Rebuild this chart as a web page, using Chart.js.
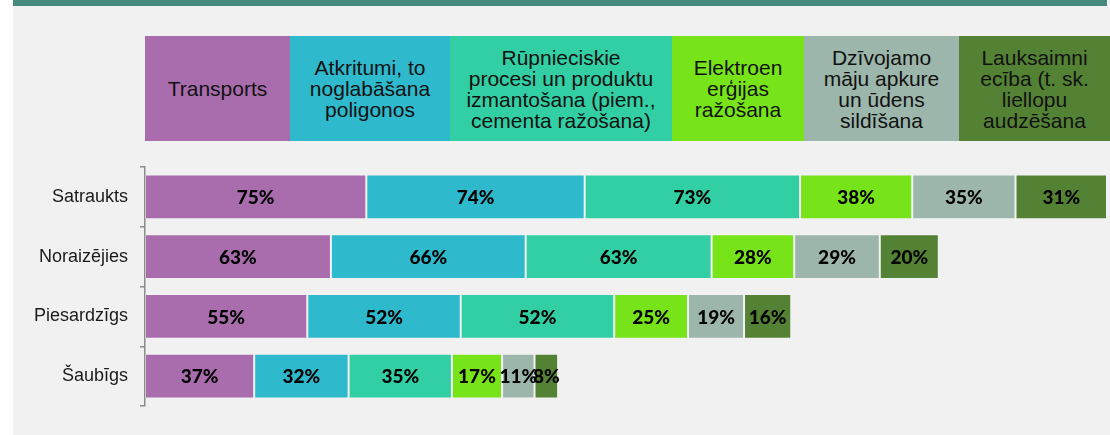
<!DOCTYPE html>
<html>
<head>
<meta charset="utf-8">
<script src="https://cdn.jsdelivr.net/npm/chart.js@4"></script>
<style>
  body { margin: 0; background: #fff; }
  #wrap { position: relative; width: 1110px; height: 435px; overflow: hidden; }
  #bg { position: absolute; left: 13px; top: 0; width: 1097px; height: 435px; background: #f1f1f1; }
  #band { position: absolute; left: 13px; top: 0; width: 1094px; height: 6px; background: #458a7c; }
  #chart { position: absolute; left: 0; top: 0; }
  .hbox { position: absolute; top: 36px; height: 105px; display: flex; align-items: center; justify-content: center;
          text-align: center; font-family: "Liberation Sans", Arial, sans-serif; font-size: 21px; line-height: 21px; color: #111; }
</style>
</head>
<body>
<div id="wrap">
  <div id="bg"></div>
  <div id="band"></div>
  <canvas id="chart" width="1110" height="435"></canvas>
  <div id="header"></div>
</div>
<script>
// categories (rows)
const categories = ['Satraukts', 'Noraizējies', 'Piesardzīgs', 'Šaubīgs'];

// series, header text split as in the picture
const seriesLines = [
  ['Transports'],
  ['Atkritumi, to', 'noglabāšana', 'poligonos'],
  ['Rūpnieciskie', 'procesi un produktu', 'izmantošana (piem.,', 'cementa ražošana)'],
  ['Elektroen', 'erģijas', 'ražošana'],
  ['Dzīvojamo', 'māju apkure', 'un ūdens', 'sildīšana'],
  ['Lauksaimni', 'ecība (t. sk.', 'liellopu', 'audzēšana']
];

// values in %, one array per series, in category order
const transports = [75, 63, 55, 37];
const atkritumi = [74, 66, 52, 32];
const rupnieciskie = [73, 63, 52, 35];
const elektroenergija = [38, 28, 25, 17];
const apkure = [35, 29, 19, 11];
const lauksaimnieciba = [31, 20, 16, 8];

const seriesValues = [transports, atkritumi, rupnieciskie, elektroenergija, apkure, lauksaimnieciba];
const colors = ['#a96dae', '#2eb9cc', '#31cfa3', '#77e41a', '#9cb6ab', '#548235'];

// header boxes edges (px)
const headerEdges = [145, 290, 450, 672, 804, 959, 1110];

const header = document.getElementById('header');
seriesLines.forEach((lines, i) => {
  const d = document.createElement('div');
  d.className = 'hbox';
  d.style.left = headerEdges[i] + 'px';
  d.style.width = (headerEdges[i + 1] - headerEdges[i]) + 'px';
  d.style.background = colors[i];
  d.innerHTML = '<div>' + lines.join('<br>') + '</div>';
  header.appendChild(d);
});

const totals = categories.map((c, j) => seriesValues.reduce((s, arr) => s + arr[j], 0));
const xMax = Math.max(...totals);

// draws the % text in the middle of each segment
const valueLabels = {
  id: 'valueLabels',
  afterDatasetsDraw(chart) {
    const ctx = chart.ctx;
    ctx.save();
    ctx.font = '900 19px Lato, "Open Sans", sans-serif';
    ctx.fillStyle = '#000';
    ctx.textAlign = 'center';
    ctx.textBaseline = 'middle';
    chart.data.datasets.forEach((ds, i) => {
      chart.getDatasetMeta(i).data.forEach((bar, j) => {
        ctx.fillText(ds.data[j] + '%', (bar.x + bar.base) / 2, bar.y + 1);
      });
    });
    ctx.restore();
  }
};

new Chart(document.getElementById('chart'), {
  type: 'bar',
  data: {
    labels: categories,
    datasets: seriesValues.map((vals, i) => ({
      label: seriesLines[i].join(' '),
      data: vals,
      backgroundColor: colors[i],
      borderColor: 'rgba(255,255,255,0.18)',
      borderWidth: 1,
      borderSkipped: false,
      categoryPercentage: 1,
      barPercentage: 0.753
    }))
  },
  options: {
    indexAxis: 'y',
    responsive: false,
    animation: false,
    layout: { padding: { left: 0, right: 3, top: 167, bottom: 29 } },
    plugins: { legend: { display: false }, tooltip: { enabled: false } },
    scales: {
      x: { stacked: true, min: 0, max: xMax, display: false },
      y: {
        stacked: true,
        afterFit: (scale) => { scale.width = 145; },
        border: { display: true, color: '#8c8c8c', width: 1.5 },
        grid: { drawOnChartArea: false, drawTicks: true, tickLength: 5, offset: true, color: '#8c8c8c', lineWidth: 1.5 },
        ticks: { padding: 12, color: '#1a1a1a', font: { family: '"Liberation Sans", Arial, sans-serif', size: 18 } }
      }
    }
  },
  plugins: [valueLabels]
});
</script>
</body>
</html>
